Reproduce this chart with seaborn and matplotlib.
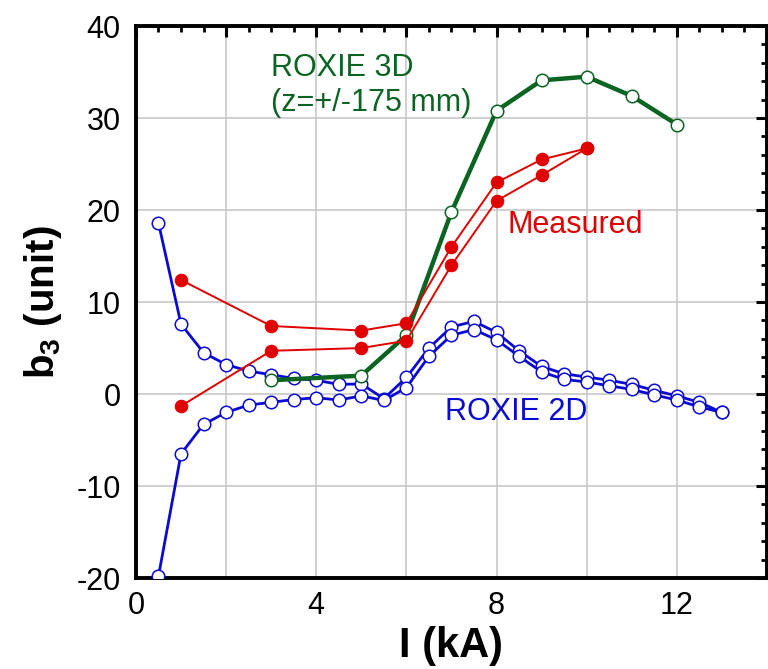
import numpy as np
import pandas as pd
import matplotlib
matplotlib.use("Agg")
import matplotlib.pyplot as plt
import seaborn as sns
from matplotlib.ticker import MultipleLocator, FuncFormatter

# --- data ---
# ROXIE 2D, two branches, every 0.5 kA
i_2d = [0.5, 1.0, 1.5, 2.0, 2.5, 3.0, 3.5, 4.0, 4.5, 5.0, 5.5, 6.0, 6.5,
        7.0, 7.5, 8.0, 8.5, 9.0, 9.5, 10.0, 10.5, 11.0, 11.5, 12.0, 12.5, 13.0]
b3_2d_a = [18.6, 7.6, 4.5, 3.2, 2.5, 2.1, 1.7, 1.5, 1.05, 1.1, -0.5, 1.8, 5.0,
           7.3, 7.9, 6.7, 4.7, 3.0, 2.2, 1.85, 1.5, 1.05, 0.4, -0.2, -0.9, -2.0]
b3_2d_b = [-19.8, -6.5, -3.3, -2.0, -1.2, -0.9, -0.6, -0.4, -0.65, -0.2, -0.7, 0.7, 4.1,
           6.4, 7.0, 5.9, 4.1, 2.4, 1.6, 1.3, 0.9, 0.5, -0.1, -0.65, -1.4, -2.0]

# ROXIE 3D (z=+/-175 mm)
i_3d = [3, 5, 6, 7, 8, 9, 10, 11, 12]
b3_3d = [1.5, 2.0, 6.4, 19.8, 30.8, 34.1, 34.5, 32.4, 29.3]

# Measured, two ramp branches
i_meas = [1, 3, 5, 6, 7, 8, 9, 10]
b3_meas_up = [12.4, 7.4, 6.9, 7.7, 16.0, 23.0, 25.5, 26.7]
b3_meas_lo = [-1.3, 4.7, 5.0, 5.8, 14.0, 21.0, 23.8, 26.7]

x_ticks_labeled = [0, 4, 8, 12]

BLUE = "#0a0ad2"
RED = "#e00000"
GREEN = "#0b6421"

sns.set_theme(style="white")
plt.rcParams['font.family'] = ['Liberation Sans', 'DejaVu Sans']
plt.rcParams['mathtext.fontset'] = 'custom'
plt.rcParams['mathtext.rm'] = 'Liberation Sans'
plt.rcParams['mathtext.bf'] = 'Liberation Sans:bold'
plt.rcParams['axes.unicode_minus'] = False
plt.rcParams['text.color'] = 'black'
plt.rcParams['axes.labelcolor'] = 'black'

fig, ax = plt.subplots(figsize=(7.68, 6.69), dpi=100)
fig.subplots_adjust(left=0.177, right=0.9987, top=0.961, bottom=0.136)

ax.grid(True, color="#c8c8c8", linewidth=1.2)
ax.set_axisbelow(True)

# ROXIE 2D
for yy in (b3_2d_a, b3_2d_b):
    sns.lineplot(x=i_2d, y=yy, ax=ax, sort=False, estimator=None, color=BLUE,
                 linewidth=2.0, marker='o', markersize=9, markerfacecolor='white',
                 markeredgecolor=BLUE, markeredgewidth=1.1, zorder=3)

# ROXIE 3D
sns.lineplot(x=i_3d, y=b3_3d, ax=ax, sort=False, estimator=None, color=GREEN,
             linewidth=3.2, marker='o', markersize=9, markerfacecolor='white',
             markeredgecolor=GREEN, markeredgewidth=1.1, zorder=4)

# Measured
for yy in (b3_meas_up, b3_meas_lo):
    sns.lineplot(x=i_meas, y=yy, ax=ax, sort=False, estimator=None, color=RED,
                 linewidth=1.4, marker='o', markersize=9, markerfacecolor=RED,
                 markeredgecolor=RED, zorder=5)

ax.set_xlim(0, 14)
ax.set_ylim(-20, 40)

ax.xaxis.set_major_locator(MultipleLocator(2))
ax.xaxis.set_minor_locator(MultipleLocator(0.5))
ax.xaxis.set_major_formatter(FuncFormatter(
    lambda v, p: f"{int(round(v))}" if int(round(v)) in x_ticks_labeled else ""))
ax.yaxis.set_major_locator(MultipleLocator(10))
ax.yaxis.set_minor_locator(MultipleLocator(2))

ax.tick_params(which='both', direction='in', top=True, right=True,
               labelsize=22, colors='black')
ax.tick_params(which='major', length=8, width=2.2)
ax.tick_params(which='minor', length=4.5, width=2.0)
ax.tick_params(axis='y', which='major', pad=11)
ax.tick_params(axis='x', which='major', pad=9)

for s in ax.spines.values():
    s.set_linewidth(2.8)
    s.set_color('black')

ax.set_xlabel("I (kA)", fontsize=30, fontweight='bold', labelpad=4)
ax.set_ylabel(r"b$_\mathbf{3}$ (unit)", fontsize=29, fontweight='bold', labelpad=9)

ax.text(3.0, 35.4, "ROXIE 3D", color=GREEN, fontsize=22, ha='left', va='center')
ax.text(3.0, 31.6, "(z=+/-175 mm)", color=GREEN, fontsize=22, ha='left', va='center')
ax.text(8.25, 18.4, "Measured", color=RED, fontsize=22, ha='left', va='center')
ax.text(6.86, -1.9, "ROXIE 2D", color=BLUE, fontsize=22, ha='left', va='center')

fig.savefig("out.png", dpi=100)
